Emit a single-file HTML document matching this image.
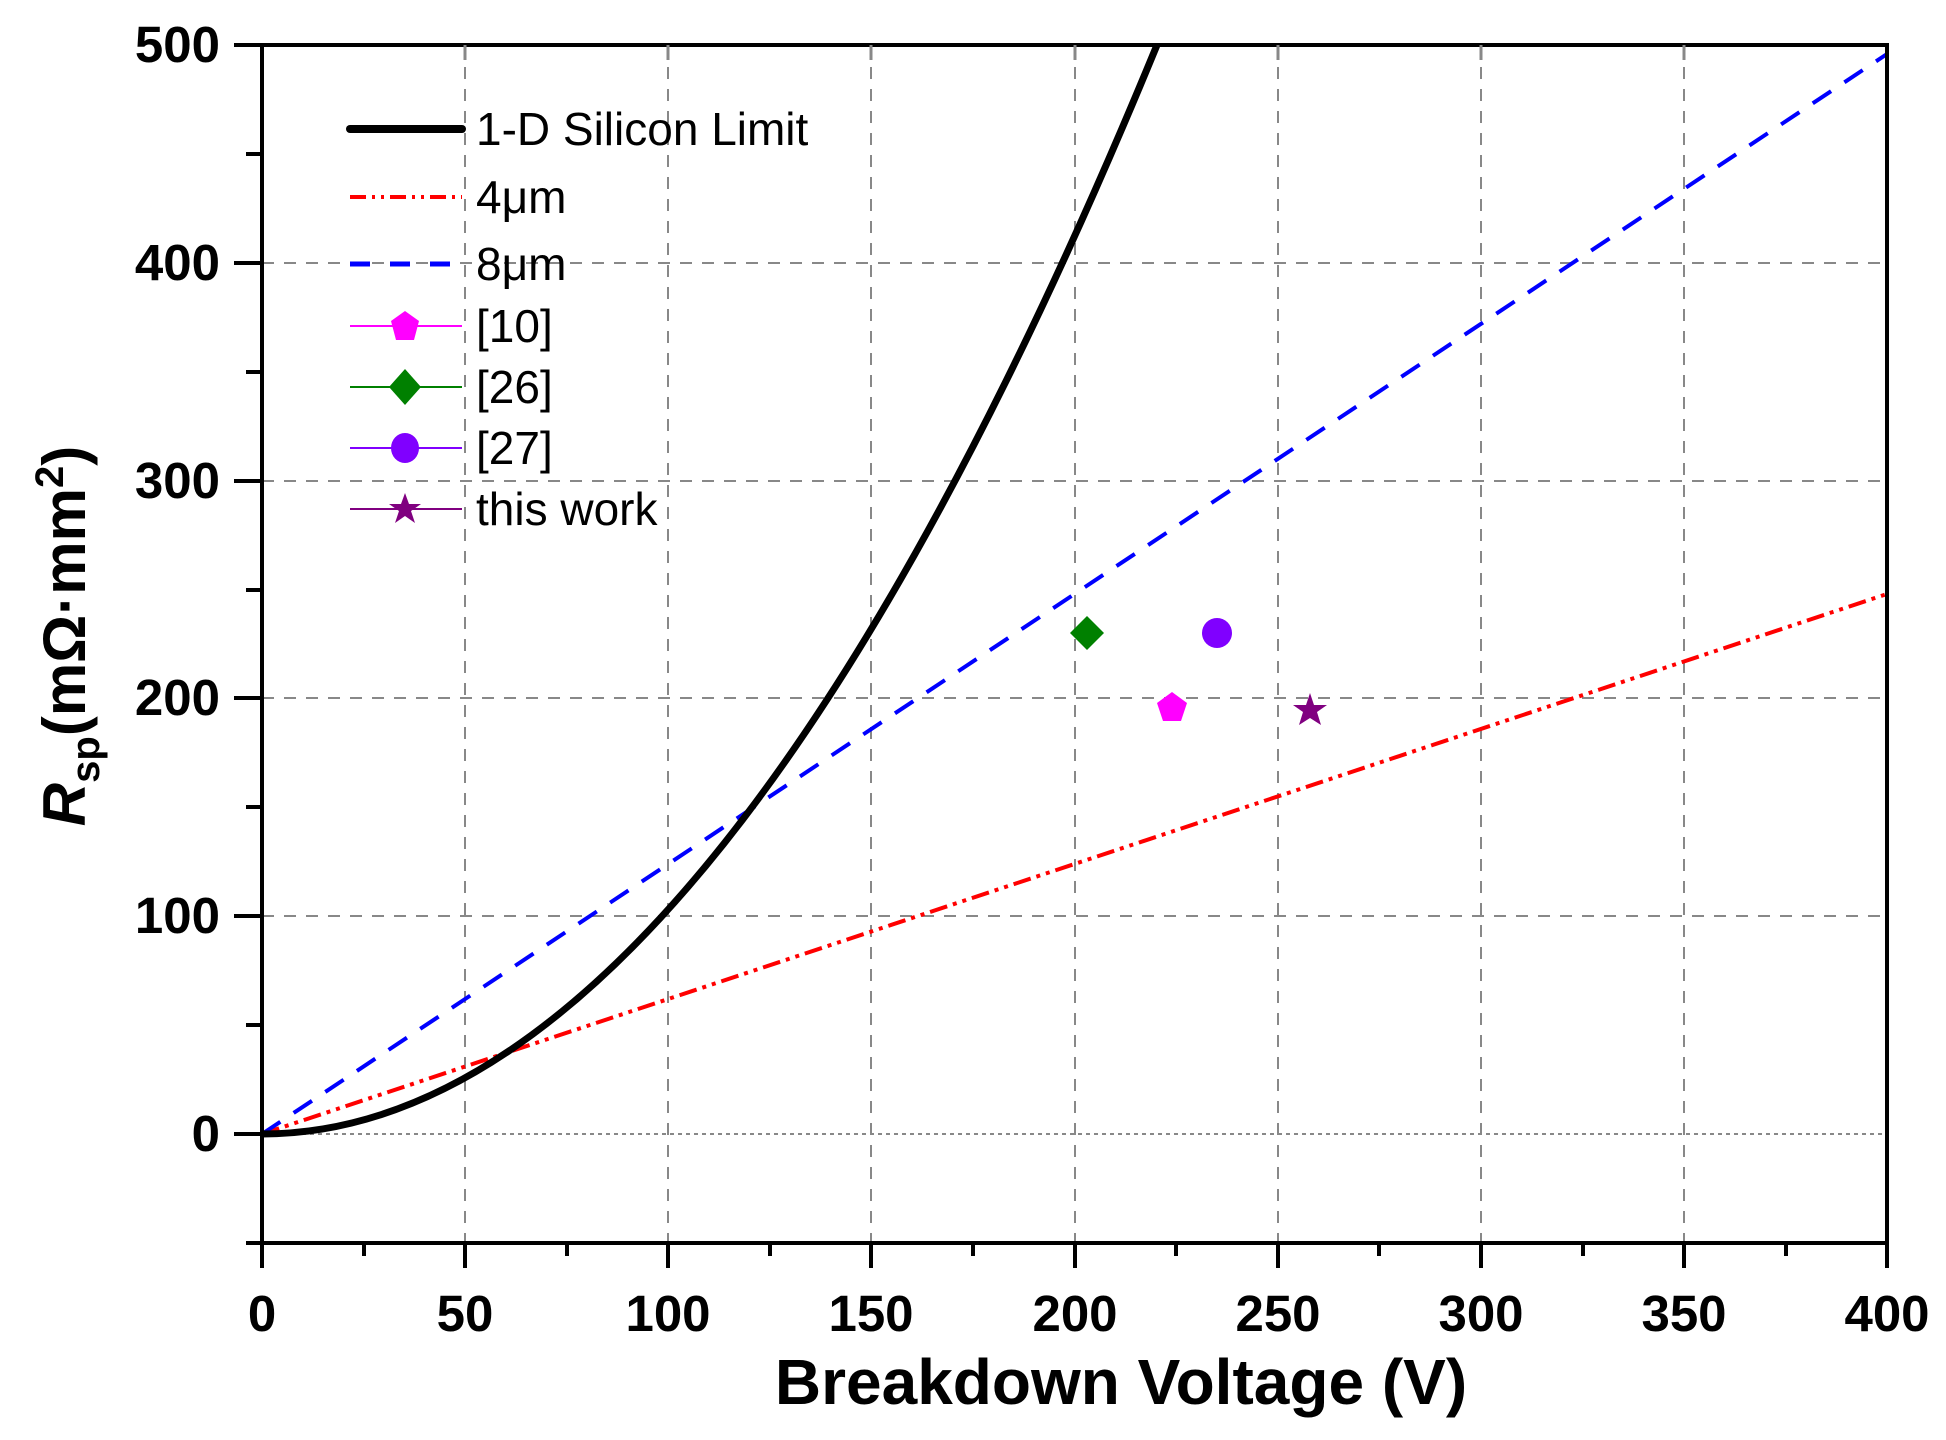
<!DOCTYPE html>
<html><head><meta charset="utf-8"><style>
html,body{margin:0;padding:0;background:#fff;}
svg{display:block;}
text{font-family:"Liberation Sans",Arial,sans-serif;}
</style></head><body>
<svg width="1946" height="1440" viewBox="0 0 1946 1440" xmlns="http://www.w3.org/2000/svg">
<g stroke="#888" stroke-width="2" stroke-dasharray="12,10" fill="none">
<line x1="465" y1="45" x2="465" y2="1243"/><line x1="668" y1="45" x2="668" y2="1243"/>
<line x1="871" y1="45" x2="871" y2="1243"/><line x1="1075" y1="45" x2="1075" y2="1243"/>
<line x1="1278" y1="45" x2="1278" y2="1243"/><line x1="1481" y1="45" x2="1481" y2="1243"/>
<line x1="1684" y1="45" x2="1684" y2="1243"/>
<line x1="262" y1="916" x2="1887" y2="916"/><line x1="262" y1="698" x2="1887" y2="698"/>
<line x1="262" y1="481" x2="1887" y2="481"/><line x1="262" y1="263" x2="1887" y2="263"/>
</g>
<line x1="262" y1="1134" x2="1887" y2="1134" stroke="#888" stroke-width="2" stroke-dasharray="4,4"/>
<!-- series -->
<line x1="262" y1="1134" x2="1887" y2="594" stroke="#f00" stroke-width="4" stroke-dasharray="18,6,4,6,4,6"/>
<line x1="262" y1="1134" x2="1887" y2="54" stroke="#00f" stroke-width="4" stroke-dasharray="22,16"/>
<path d="M262,1134 Q709,1134 1157,45" stroke="#000" stroke-width="7" fill="none"/>
<!-- points -->
<polygon points="1087,616 1104,633 1087,650 1070,633" fill="#008000"/>
<polygon points="1172,692 1187,703 1181,721 1163,721 1157,703" fill="#ff00ff"/>
<circle cx="1217" cy="633" r="15" fill="#8000ff"/>
<polygon points="1310,693 1314,705 1327,705 1317,712 1321,725 1310,718 1299,725 1303,712 1293,705 1306,705" fill="#800080"/>
<!-- axes -->
<rect x="262" y="45" width="1625" height="1198" fill="none" stroke="#000" stroke-width="4"/>
<g stroke="#000" stroke-width="4">
<line x1="234" y1="45" x2="262" y2="45"/><line x1="234" y1="263" x2="262" y2="263"/>
<line x1="234" y1="481" x2="262" y2="481"/><line x1="234" y1="698" x2="262" y2="698"/>
<line x1="234" y1="916" x2="262" y2="916"/><line x1="234" y1="1134" x2="262" y2="1134"/>
<line x1="246" y1="154" x2="262" y2="154"/><line x1="246" y1="372" x2="262" y2="372"/>
<line x1="246" y1="590" x2="262" y2="590"/><line x1="246" y1="807" x2="262" y2="807"/>
<line x1="246" y1="1025" x2="262" y2="1025"/><line x1="246" y1="1243" x2="262" y2="1243"/>
<line x1="262" y1="1243" x2="262" y2="1268"/><line x1="465" y1="1243" x2="465" y2="1268"/>
<line x1="668" y1="1243" x2="668" y2="1268"/><line x1="871" y1="1243" x2="871" y2="1268"/>
<line x1="1075" y1="1243" x2="1075" y2="1268"/><line x1="1278" y1="1243" x2="1278" y2="1268"/>
<line x1="1481" y1="1243" x2="1481" y2="1268"/><line x1="1684" y1="1243" x2="1684" y2="1268"/>
<line x1="1887" y1="1243" x2="1887" y2="1268"/>
<line x1="364" y1="1243" x2="364" y2="1256"/><line x1="567" y1="1243" x2="567" y2="1256"/>
<line x1="770" y1="1243" x2="770" y2="1256"/><line x1="973" y1="1243" x2="973" y2="1256"/>
<line x1="1176" y1="1243" x2="1176" y2="1256"/><line x1="1379" y1="1243" x2="1379" y2="1256"/>
<line x1="1583" y1="1243" x2="1583" y2="1256"/><line x1="1786" y1="1243" x2="1786" y2="1256"/>
</g>
<g stroke="#888" stroke-width="3">
<line x1="465" y1="45" x2="465" y2="60"/><line x1="668" y1="45" x2="668" y2="60"/>
<line x1="871" y1="45" x2="871" y2="60"/><line x1="1075" y1="45" x2="1075" y2="60"/>
<line x1="1278" y1="45" x2="1278" y2="60"/><line x1="1481" y1="45" x2="1481" y2="60"/>
<line x1="1684" y1="45" x2="1684" y2="60"/>
</g>
<g font-size="51" font-weight="bold" text-anchor="end">
<text x="220" y="62">500</text><text x="220" y="280">400</text><text x="220" y="498">300</text>
<text x="220" y="715">200</text><text x="220" y="933">100</text><text x="220" y="1151">0</text>
</g>
<g font-size="51" font-weight="bold" text-anchor="middle">
<text x="262" y="1331">0</text><text x="465" y="1331">50</text><text x="668" y="1331">100</text>
<text x="871" y="1331">150</text><text x="1075" y="1331">200</text><text x="1278" y="1331">250</text>
<text x="1481" y="1331">300</text><text x="1684" y="1331">350</text><text x="1887" y="1331">400</text>
</g>
<text x="1121" y="1404" font-size="64" font-weight="bold" text-anchor="middle">Breakdown Voltage (V)</text>
<text transform="translate(85,636) rotate(-90)" font-size="60" font-weight="bold" text-anchor="middle"><tspan font-style="italic">R</tspan><tspan font-size="40" dy="14">sp</tspan><tspan dy="-14">(mΩ·mm</tspan><tspan font-size="40" dy="-22">2</tspan><tspan dy="22">)</tspan></text>
<!-- legend -->
<line x1="350" y1="129" x2="462" y2="129" stroke="#000" stroke-width="8" stroke-linecap="round"/>
<line x1="350" y1="197" x2="462" y2="197" stroke="#f00" stroke-width="4" stroke-dasharray="16,6,3,6,3,6"/>
<line x1="350" y1="264" x2="462" y2="264" stroke="#00f" stroke-width="5" stroke-dasharray="20,20"/>
<line x1="350" y1="326" x2="462" y2="326" stroke="#ff00ff" stroke-width="2"/>
<polygon points="405,311 419,321 414,340 396,340 391,321" fill="#ff00ff"/>
<line x1="350" y1="387" x2="462" y2="387" stroke="#008000" stroke-width="2"/>
<polygon points="405,369 421,387 405,405 389,387" fill="#008000"/>
<line x1="350" y1="448" x2="462" y2="448" stroke="#8000ff" stroke-width="2"/>
<ellipse cx="405" cy="448" rx="14" ry="15" fill="#8000ff"/>
<line x1="350" y1="509" x2="462" y2="509" stroke="#800080" stroke-width="2"/>
<polygon points="405,493 409,504 421,504 411,511 415,523 405,516 395,523 399,511 389,504 401,504" fill="#800080"/>
<g font-size="46">
<text x="476" y="145">1-D Silicon Limit</text>
<text x="476" y="213">4μm</text>
<text x="476" y="280">8μm</text>
<text x="476" y="342">[10]</text>
<text x="476" y="403">[26]</text>
<text x="476" y="464">[27]</text>
<text x="476" y="525">this work</text>
</g>
</svg>
</body></html>
